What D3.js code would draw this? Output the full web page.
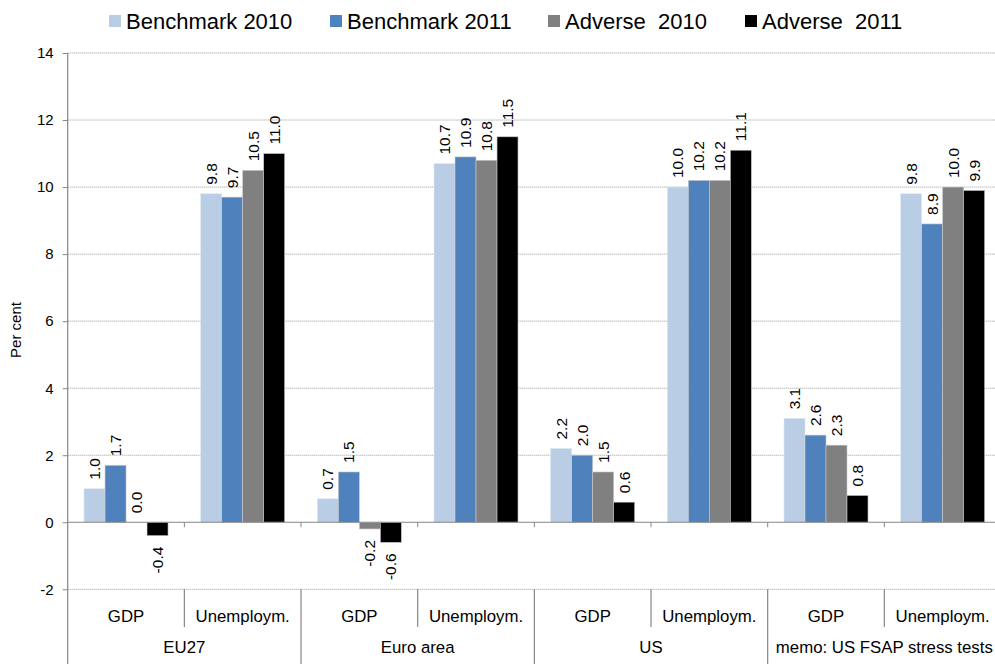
<!DOCTYPE html>
<html><head><meta charset="utf-8">
<script src="https://cdn.jsdelivr.net/npm/d3@7"></script>
<style>body{margin:0;background:#fff}svg{display:block;font-family:"Liberation Sans",Arial,sans-serif}</style>
</head><body><svg id="c" width="995" height="664"></svg>
<script>
const groups = ["EU27","Euro area","US","memo: US FSAP stress tests"];
const subcats = ["GDP","Unemploym."];
const series = ["Benchmark 2010","Benchmark 2011","Adverse  2010","Adverse  2011"];
const colors = ["#B9CDE5","#4F81BD","#808080","#000000"];
const yTicks = [-2,0,2,4,6,8,10,12,14];
// values per category (group x subcat), order of series
const gdpEU27 = [1.0,1.7,0.0,-0.4];
const unEU27 = [9.8,9.7,10.5,11.0];
const gdpEA = [0.7,1.5,-0.2,-0.6];
const unEA = [10.7,10.9,10.8,11.5];
const gdpUS = [2.2,2.0,1.5,0.6];
const unUS = [10.0,10.2,10.2,11.1];
const gdpMemo = [3.1,2.6,2.3,0.8];
const unMemo = [9.8,8.9,10.0,9.9];
const values = [gdpEU27,unEU27,gdpEA,unEA,gdpUS,unUS,gdpMemo,unMemo];

const cats = [];
groups.forEach(g=>subcats.forEach(s=>cats.push({g,s,id:g+"|"+s})));

const svg = d3.select("#c");
const L = 67.7, R = 1001, T = 53, B = 589.3;
const x0 = d3.scaleBand().domain(cats.map(c=>c.id)).range([L,R]);
const bw = x0.bandwidth();
const pad = bw*0.14;
const x1 = d3.scaleBand().domain(series).range([pad,bw-pad]);
const y = d3.scaleLinear().domain([-2,14]).range([B,T]);

// gridlines
svg.append("g").selectAll("line").data(yTicks.filter(v=>v!==0)).join("line")
  .attr("x1",L).attr("x2",R).attr("y1",d=>y(d)).attr("y2",d=>y(d))
  .attr("stroke","#9a9a9a").attr("stroke-width",1).attr("stroke-dasharray","1,1");

// bars
const gBars = svg.append("g");
cats.forEach((c,i)=>{
  const g = gBars.append("g").attr("transform",`translate(${x0(c.id)},0)`);
  values[i].forEach((v,j)=>{
    g.append("rect").attr("x",x1(series[j])).attr("width",x1.bandwidth())
      .attr("y",y(Math.max(0,v))).attr("height",Math.abs(y(v)-y(0)))
      .attr("fill",colors[j]).attr("stroke", j===0?"#dde6f2":"#c8c8c8").attr("stroke-width",0.6);
    const cx = x1(series[j]) + x1.bandwidth()/2;
    const ty = v>=0 ? y(v)-9 : y(v)+11;
    g.append("text").attr("transform",`translate(${cx+5.5},${ty}) rotate(-90)`)
      .attr("text-anchor", v>=0 ? "start":"end")
      .attr("font-size",15.5).attr("fill","#000").text(v.toFixed(1));
  });
});

// zero axis line
svg.append("line").attr("x1",L).attr("x2",R).attr("y1",y(0)).attr("y2",y(0))
  .attr("stroke","#868686").attr("stroke-width",1.2);
// ticks on zero axis
svg.append("g").selectAll("line").data(cats.slice(1)).join("line")
  .attr("x1",d=>x0(d.id)).attr("x2",d=>x0(d.id)).attr("y1",y(0)).attr("y2",y(0)+5)
  .attr("stroke","#868686");

// y axis
svg.append("line").attr("x1",L).attr("x2",L).attr("y1",T).attr("y2",664).attr("stroke","#868686").attr("stroke-width",1.2);
const yAxis = d3.axisLeft(y).tickValues(yTicks).tickSize(5).tickFormat(d=>String(d));
const ya = svg.append("g").attr("transform",`translate(${L},0)`).call(yAxis);
ya.select(".domain").remove();
ya.selectAll(".tick line").attr("stroke","#868686");
ya.selectAll(".tick text").attr("font-size",15).attr("fill","#000").attr("x",-14)
  .attr("font-family","Liberation Sans, Arial, sans-serif");

svg.append("text").attr("transform",`translate(21,330) rotate(-90)`).attr("text-anchor","middle")
  .attr("font-size",15).text("Per cent");

// category separators
cats.forEach((c,i)=>{
  if(i===0) return;
  const xx = x0(c.id);
  svg.append("line").attr("x1",xx).attr("x2",xx).attr("y1",B).attr("y2", i%2===0 ? 664 : 627)
    .attr("stroke","#868686").attr("stroke-width",1.2);
});
// subcategory labels
svg.append("g").selectAll("text").data(cats).join("text")
  .attr("x",d=>x0(d.id)+bw/2).attr("y",622).attr("text-anchor","middle")
  .attr("font-size",16.8).text(d=>d.s);
// group labels
svg.append("g").selectAll("text").data(groups).join("text")
  .attr("x",(d,i)=>x0(cats[i*2].id)+bw).attr("y",653).attr("text-anchor","middle")
  .attr("font-size",16.8).text(d=>d);

// legend
const legX = [109,330,548,745];
const lg = svg.append("g");
series.forEach((s,i)=>{
  lg.append("rect").attr("x",legX[i]).attr("y",15).attr("width",12).attr("height",12).attr("fill",colors[i]);
  lg.append("text").attr("x",legX[i]+17).attr("y",29).attr("font-size",22).attr("xml:space","preserve")
    .style("white-space","pre").text(s);
});
</script></body></html>
